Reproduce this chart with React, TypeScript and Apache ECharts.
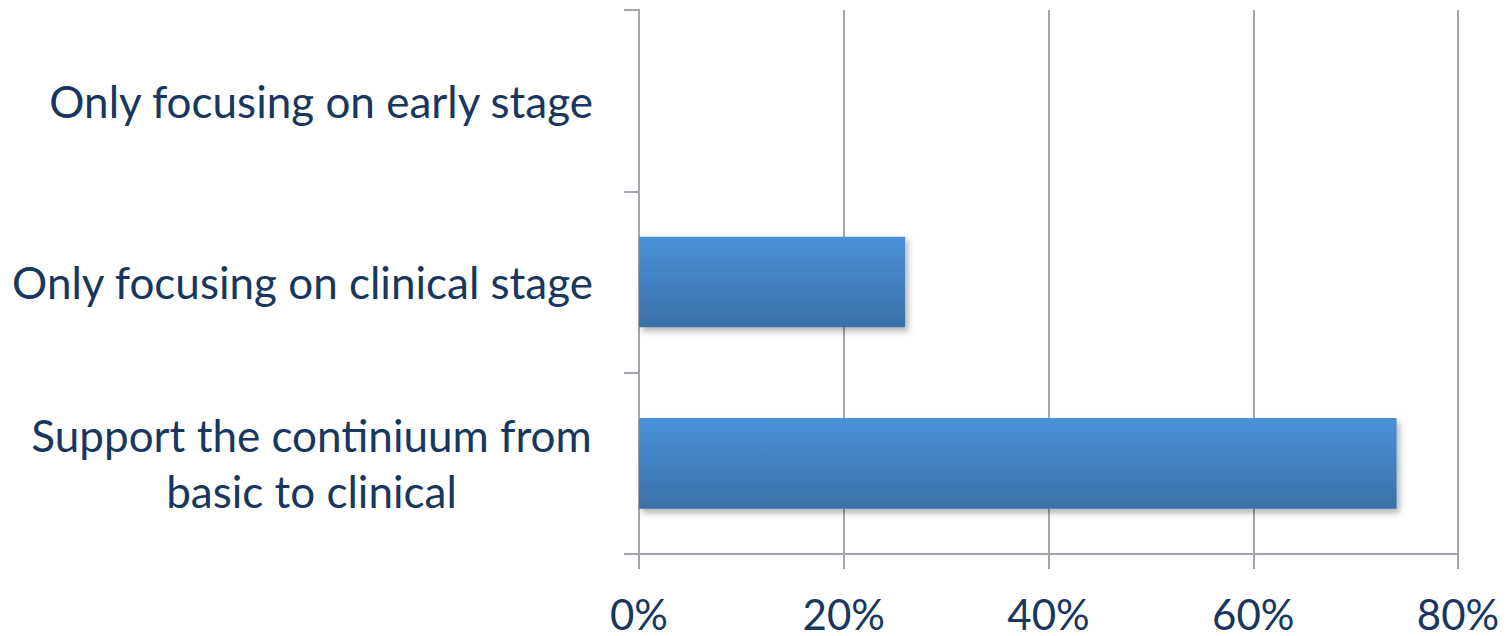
import React, { useEffect, useRef } from "react";
import * as echarts from "echarts";

const categories = [
  "Support the continiuum from\nbasic to clinical",
  "Only focusing on clinical stage",
  "Only focusing on early stage",
];
const values = [74, 26, 0];
const xTicks = [0, 20, 40, 60, 80];

const textColor = "#17375E";
const axisGray = "#A5A5B0";
const font = "Lato";
const yFontSize = 44;

function measure(text: string): number {
  const c = document.createElement("canvas").getContext("2d")!;
  c.font = `${yFontSize}px ${font}`;
  return Math.ceil(c.measureText(text).width) + 2;
}

export default function App() {
  const ref = useRef<HTMLDivElement>(null);
  useEffect(() => {
    document.body.style.margin = "0";
    const chart = echarts.init(ref.current!, null, { renderer: "svg" });
    let blockWidth = 0;
    categories.forEach((c) => {
      if (c.includes("\n")) c.split("\n").forEach((l) => (blockWidth = Math.max(blockWidth, measure(l))));
    });
    chart.setOption({
      animation: false,
      backgroundColor: "#ffffff",
      grid: { left: 639, right: 48, top: 10, bottom: 82, containLabel: false },
      xAxis: {
        type: "value",
        min: xTicks[0],
        max: xTicks[xTicks.length - 1],
        interval: 20,
        axisLine: { show: true, lineStyle: { color: axisGray, width: 2 } },
        axisTick: { show: true, length: 15, lineStyle: { color: axisGray, width: 2 } },
        splitLine: { show: true, lineStyle: { color: axisGray, width: 2 } },
        axisLabel: {
          formatter: (v: number) => v + "%",
          color: textColor,
          fontFamily: font,
          fontSize: 42,
          lineHeight: 36,
          margin: 42,
        },
      },
      yAxis: {
        type: "category",
        data: categories,
        axisLine: { show: true, lineStyle: { color: axisGray, width: 2 } },
        axisTick: { show: true, length: 15, lineStyle: { color: axisGray, width: 2 } },
        splitLine: { show: false },
        axisLabel: {
          color: textColor,
          fontFamily: font,
          fontSize: yFontSize,
          margin: 46,
          lineHeight: 56,
          align: "right",
          formatter: (v: string) =>
            v.includes("\n") ? v.split("\n").map((l) => `{c|${l}}`).join("\n") : v,
          rich: {
            c: {
              width: blockWidth,
              align: "center",
              color: textColor,
              fontFamily: font,
              fontSize: yFontSize,
              lineHeight: 56,
            },
          },
        },
      },
      series: [
        {
          type: "bar",
          data: values,
          barWidth: "50%",
          itemStyle: {
            color: new echarts.graphic.LinearGradient(0, 0, 0, 1, [
              { offset: 0, color: "#4A92D8" },
              { offset: 1, color: "#3A70A7" },
            ]),
            shadowBlur: 6,
            shadowOffsetX: 3,
            shadowOffsetY: 4,
            shadowColor: "rgba(0,0,0,0.3)",
          },
        },
      ],
    });
    return () => chart.dispose();
  }, []);
  return <div ref={ref} style={{ width: 1506, height: 636 }} />;
}
